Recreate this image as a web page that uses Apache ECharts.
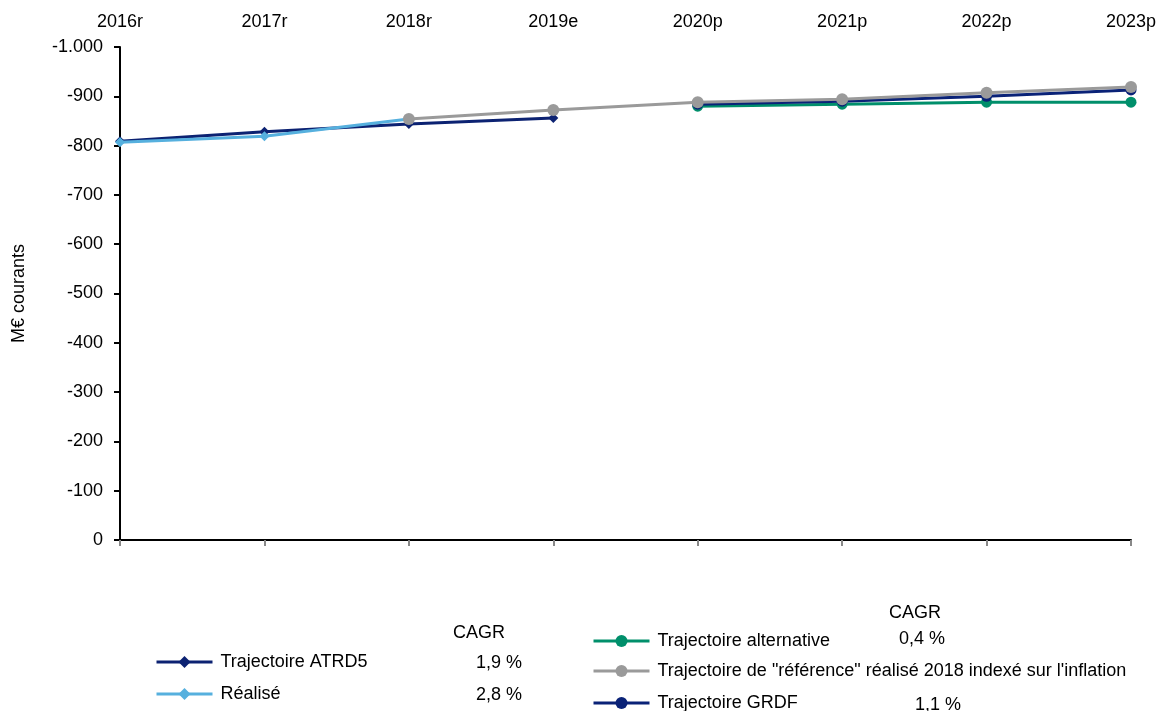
<!DOCTYPE html>
<html>
<head>
<meta charset="utf-8">
<script src="https://cdn.jsdelivr.net/npm/echarts@6/dist/echarts.min.js"></script>
<style>
html,body{margin:0;padding:0;background:#fff;}
#chart{width:1163px;height:711px;}
</style>
</head>
<body>
<div id="chart"></div>
<script>
const categories = ['2016r','2017r','2018r','2019e','2020p','2021p','2022p','2023p'];
const atrd5 = [-809, -828, -844, -856, null, null, null, null];
const realise = [-807, -819, -854, null, null, null, null, null];
const reference = [null, null, -854, -872, -888, -894, -907, -919];
const alternative = [null, null, null, null, -880, -884, -888, -888];
const grdf = [null, null, null, null, -884, -890, -900, -913];
const yTicks = {min: -1000, max: 0, interval: 100};
const cagrLeft = ['1,9 %', '2,8 %'];
const cagrRight = ['0,4 %', '1,1 %'];

const FONT = 'Liberation Sans, Arial, sans-serif';
const FS = 18;
const chart = echarts.init(document.getElementById('chart'), null, {renderer: 'canvas'});

const names = ['Trajectoire ATRD5', 'Réalisé', 'Trajectoire alternative',
  'Trajectoire de "référence" réalisé 2018 indexé sur l\'inflation', 'Trajectoire GRDF'];

function lineSeries(name, data, color, symbol, size, z) {
  return {
    name, type: 'line', data, xAxisIndex: 0,
    symbol, symbolSize: size, showSymbol: true,
    connectNulls: false,
    lineStyle: {color, width: 3},
    itemStyle: {color},
    z
  };
}

function legendAt(name, left, centerY) {
  return {
    data: [name], orient: 'horizontal', left, top: centerY - 9, padding: 0,
    itemWidth: 56, itemHeight: 15,
    lineStyle: {width: 3},
    textStyle: {color: '#000', fontSize: FS, fontFamily: FONT, padding: [0, 0, 0, 3]},
    selectedMode: false
  };
}

function txt(text, left, centerY) {
  return {type: 'text', left, top: centerY - 8, style: {text, fill: '#000', font: FS + 'px ' + FONT}};
}

chart.setOption({
  animation: false,
  backgroundColor: '#fff',
  textStyle: {fontFamily: FONT},
  grid: {left: 120, right: 32, top: 47, bottom: 171, containLabel: false},
  xAxis: [
    {
      type: 'category', data: categories, position: 'bottom', boundaryGap: false,
      axisLine: {show: true, lineStyle: {color: '#000', width: 2}},
      axisTick: {show: true, length: 6, lineStyle: {color: '#888', width: 2}},
      axisLabel: {show: false},
      splitLine: {show: false}
    },
    {
      type: 'category', data: categories, position: 'top', boundaryGap: false,
      axisLine: {show: false}, axisTick: {show: false},
      axisLabel: {show: true, color: '#000', fontSize: FS, margin: 16, fontFamily: FONT},
      splitLine: {show: false}
    }
  ],
  yAxis: {
    type: 'value', inverse: true, min: yTicks.min, max: yTicks.max, interval: yTicks.interval,
    name: 'M€ courants', nameLocation: 'middle', nameRotate: 90, nameGap: 92,
    nameTextStyle: {color: '#000', fontSize: FS, fontFamily: FONT},
    axisLine: {show: true, lineStyle: {color: '#000', width: 2}},
    axisTick: {show: true, length: 6, lineStyle: {color: '#000', width: 2}},
    axisLabel: {
      color: '#000', fontSize: FS, margin: 17, fontFamily: FONT,
      formatter: v => {
        const s = Math.abs(v).toString().replace(/\B(?=(\d{3})+(?!\d))/g, '.');
        return (v < 0 ? '-' : '') + s;
      }
    },
    splitLine: {show: false}
  },
  legend: [
    legendAt(names[0], 155, 662),
    legendAt(names[1], 155, 694),
    legendAt(names[2], 592, 641),
    legendAt(names[3], 592, 671),
    legendAt(names[4], 592, 703)
  ],
  graphic: [
    txt('CAGR', 453, 632),
    txt(cagrLeft[0], 476, 662),
    txt(cagrLeft[1], 476, 694),
    txt('CAGR', 889, 612),
    txt(cagrRight[0], 899, 638),
    txt(cagrRight[1], 915, 704)
  ],
  series: [
    lineSeries(names[0], atrd5, '#0c2272', 'diamond', 10, 3),
    lineSeries(names[1], realise, '#56b0de', 'diamond', 10, 4),
    lineSeries(names[2], alternative, '#008f6b', 'circle', 11, 2),
    lineSeries(names[3], reference, '#9a9a9a', 'circle', 12, 5),
    lineSeries(names[4], grdf, '#0a2277', 'circle', 11, 4)
  ]
});
</script>
</body>
</html>
